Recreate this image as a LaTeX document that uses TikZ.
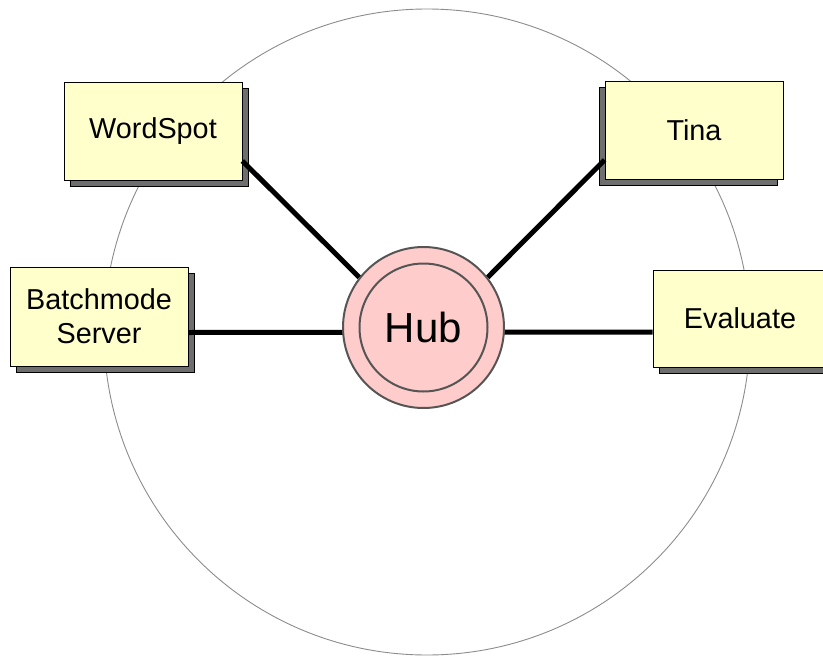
\documentclass[tikz,border=0pt]{standalone}
\usepackage{fontspec}
\setmainfont{Liberation Sans}
\usetikzlibrary{shadows}
\definecolor{boxfill}{HTML}{FFFFCC}
\definecolor{shadowgray}{HTML}{6E6E6E}
\definecolor{hubfill}{HTML}{FFCCCC}
\definecolor{hubline}{HTML}{555555}
\definecolor{ringgray}{HTML}{8C8C8C}
\pgfdeclarelayer{background}
\pgfdeclarelayer{foreground}
\pgfsetlayers{background,main,foreground}
\begin{document}
\begin{tikzpicture}[x=1pt,y=-1pt,
  box/.style={draw=black, line width=0.8pt, fill=boxfill, minimum width=178pt,
    minimum height=98pt, inner sep=0pt, align=center,
    font=\fontsize{28.8}{34}\selectfont},
  shadowright/.style={drop shadow={shadow xshift=6pt, shadow yshift=-6pt,
    fill=shadowgray, draw=black, line width=0.6pt, opacity=1}},
  shadowleft/.style={drop shadow={shadow xshift=-6pt, shadow yshift=-6pt,
    fill=shadowgray, draw=black, line width=0.6pt, opacity=1}},
  hub/.style={circle, draw=hubline, line width=2pt, fill=hubfill,
    minimum size=161pt, inner sep=0pt, font=\fontsize{42}{48}\selectfont},
  conn/.style={draw=black, line width=5pt},
  ring/.style={draw=ringgray, line width=0.9pt}]
\useasboundingbox (0,0) rectangle (823,656);

\node[box, shadowright] (wordspot) at (153,131.5) {WordSpot};
\node[box, shadowright, minimum height=99pt] (batch) at (99,316.5) {Batchmode\\Server};
\node[box, shadowleft] (tina) at (694,130) {Tina};
\node[box, shadowright, minimum width=174pt, minimum height=97pt] (eval) at (740,318.5) {Evaluate};

\begin{pgfonlayer}{foreground}
  \node[hub] (hubnode) at (423.5,327.5) {Hub};
  \draw[hubline, line width=2pt] (hubnode.center) circle[radius=64pt];
\end{pgfonlayer}

\begin{pgfonlayer}{background}
  \draw[ring] (427,332) circle[radius=323pt];
\end{pgfonlayer}

\draw[conn] ([yshift=-29.5pt]wordspot.east) -- (hubnode.142);
\draw[conn] ([yshift=-30pt]tina.west) -- (hubnode.38);
\draw[conn] ([yshift=-16pt]batch.east) -- ([yshift=-13.5pt]eval.west);
\end{tikzpicture}
\end{document}
